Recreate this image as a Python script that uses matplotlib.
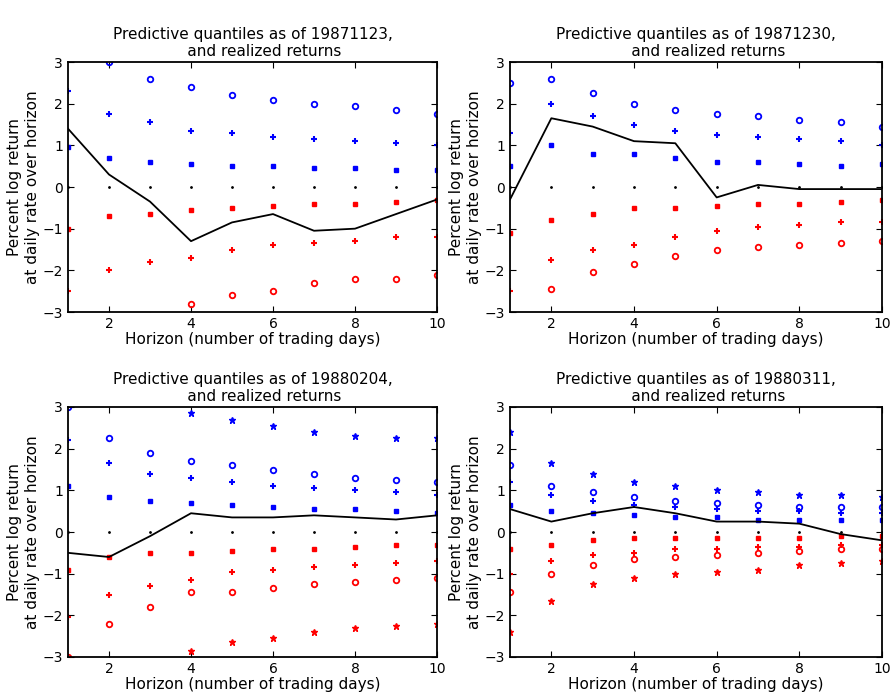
import numpy as np
import matplotlib
matplotlib.use("Agg")
import matplotlib.pyplot as plt

horizon = list(range(1, 11))
titles = ["Predictive quantiles as of 19871123,\n     and realized returns",
          "Predictive quantiles as of 19871230,\n     and realized returns",
          "Predictive quantiles as of 19880204,\n     and realized returns",
          "Predictive quantiles as of 19880311,\n     and realized returns"]

# panel 1
p1_hi4 = [3.6, 3.5, 3.5, 3.5, 3.5, 3.5, 3.5, 3.5, 3.5, 3.5]
p1_hi3 = [3.2, 3.0, 2.6, 2.4, 2.2, 2.1, 2.0, 1.95, 1.85, 1.75]
p1_hi2 = [2.3, 1.75, 1.55, 1.35, 1.3, 1.2, 1.15, 1.1, 1.05, 1.0]
p1_hi1 = [0.95, 0.7, 0.6, 0.55, 0.5, 0.5, 0.45, 0.45, 0.4, 0.4]
p1_lo1 = [-1.0, -0.7, -0.65, -0.55, -0.5, -0.45, -0.4, -0.4, -0.35, -0.3]
p1_lo2 = [-2.5, -2.0, -1.8, -1.7, -1.5, -1.4, -1.35, -1.3, -1.2, -1.2]
p1_lo3 = [-3.3, -3.2, -3.1, -2.8, -2.6, -2.5, -2.3, -2.2, -2.2, -2.1]
p1_lo4 = [-3.6, -3.5, -3.5, -3.5, -3.5, -3.5, -3.5, -3.5, -3.5, -3.5]
p1_real = [1.4, 0.3, -0.35, -1.3, -0.85, -0.65, -1.05, -1.0, -0.65, -0.3]

# panel 2
p2_hi4 = [3.5, 3.5, 3.5, 3.5, 3.5, 3.5, 3.5, 3.5, 3.5, 3.5]
p2_hi3 = [2.5, 2.6, 2.25, 2.0, 1.85, 1.75, 1.7, 1.6, 1.55, 1.45]
p2_hi2 = [1.3, 2.0, 1.7, 1.5, 1.35, 1.25, 1.2, 1.15, 1.1, 1.0]
p2_hi1 = [0.5, 1.0, 0.8, 0.8, 0.7, 0.6, 0.6, 0.55, 0.5, 0.55]
p2_lo1 = [-1.1, -0.8, -0.65, -0.5, -0.5, -0.45, -0.4, -0.4, -0.35, -0.3]
p2_lo2 = [-2.5, -1.75, -1.5, -1.4, -1.2, -1.05, -0.95, -0.9, -0.85, -0.85]
p2_lo3 = [-3.5, -2.45, -2.05, -1.85, -1.65, -1.5, -1.45, -1.4, -1.35, -1.3]
p2_lo4 = [-3.6, -3.5, -3.5, -3.5, -3.5, -3.5, -3.5, -3.5, -3.5, -3.5]
p2_real = [-0.3, 1.65, 1.45, 1.1, 1.05, -0.25, 0.05, -0.05, -0.05, -0.05]

# panel 3
p3_hi4 = [3.5, 3.5, 3.5, 2.85, 2.7, 2.55, 2.4, 2.3, 2.25, 2.25]
p3_hi3 = [3.0, 2.25, 1.9, 1.7, 1.6, 1.5, 1.4, 1.3, 1.25, 1.2]
p3_hi2 = [2.2, 1.65, 1.4, 1.3, 1.2, 1.1, 1.05, 1.0, 0.95, 0.9]
p3_hi1 = [1.1, 0.85, 0.75, 0.7, 0.65, 0.6, 0.55, 0.55, 0.5, 0.45]
p3_lo1 = [-0.9, -0.6, -0.5, -0.5, -0.45, -0.4, -0.4, -0.35, -0.3, -0.3]
p3_lo2 = [-2.05, -1.5, -1.3, -1.15, -0.95, -0.9, -0.85, -0.8, -0.75, -0.7]
p3_lo3 = [-3.0, -2.2, -1.8, -1.45, -1.45, -1.35, -1.25, -1.2, -1.15, -1.1]
p3_lo4 = [-3.5, -3.5, -3.5, -2.85, -2.65, -2.55, -2.4, -2.3, -2.25, -2.2]
p3_real = [-0.5, -0.6, -0.1, 0.45, 0.35, 0.35, 0.4, 0.35, 0.3, 0.4]

# panel 4
p4_hi4 = [2.4, 1.65, 1.4, 1.2, 1.1, 1.0, 0.95, 0.9, 0.9, 0.85]
p4_hi3 = [1.6, 1.1, 0.95, 0.85, 0.75, 0.7, 0.65, 0.6, 0.6, 0.6]
p4_hi2 = [1.2, 0.9, 0.75, 0.65, 0.6, 0.55, 0.5, 0.5, 0.45, 0.45]
p4_hi1 = [0.65, 0.5, 0.45, 0.4, 0.35, 0.35, 0.3, 0.3, 0.3, 0.3]
p4_lo1 = [-0.4, -0.3, -0.2, -0.15, -0.15, -0.15, -0.15, -0.15, -0.1, -0.1]
p4_lo2 = [-1.0, -0.7, -0.55, -0.5, -0.4, -0.4, -0.35, -0.35, -0.3, -0.3]
p4_lo3 = [-1.45, -1.0, -0.8, -0.65, -0.6, -0.55, -0.5, -0.45, -0.4, -0.4]
p4_lo4 = [-2.4, -1.65, -1.25, -1.1, -1.0, -0.95, -0.9, -0.8, -0.75, -0.7]
p4_real = [0.55, 0.25, 0.45, 0.6, 0.45, 0.25, 0.25, 0.2, -0.05, -0.2]

panels = [
    (p1_hi4, p1_hi3, p1_hi2, p1_hi1, p1_lo1, p1_lo2, p1_lo3, p1_lo4, p1_real),
    (p2_hi4, p2_hi3, p2_hi2, p2_hi1, p2_lo1, p2_lo2, p2_lo3, p2_lo4, p2_real),
    (p3_hi4, p3_hi3, p3_hi2, p3_hi1, p3_lo1, p3_lo2, p3_lo3, p3_lo4, p3_real),
    (p4_hi4, p4_hi3, p4_hi2, p4_hi1, p4_lo1, p4_lo2, p4_lo3, p4_lo4, p4_real),
]

W, H = 890, 699
fig = plt.figure(figsize=(8.9, 6.99), dpi=100)
boxes = [(68, 62, 437, 312), (510, 62, 882, 312), (68, 407, 437, 657), (510, 407, 882, 657)]
blue, red = "#0000ff", "#ff0000"
for (x0, y0, x1, y1), data, title in zip(boxes, panels, titles):
    ax = fig.add_axes([x0 / W, 1 - y1 / H, (x1 - x0) / W, (y1 - y0) / H])
    hi4, hi3, hi2, hi1, lo1, lo2, lo3, lo4, real = data
    kw = dict(linestyle="none", clip_on=True)
    ax.plot(horizon, hi4, marker="*", ms=4.5, color=blue, **kw)
    ax.plot(horizon, hi3, marker="o", ms=4, mfc="none", mew=1.3, color=blue, **kw)
    ax.plot(horizon, hi2, marker="+", ms=5, mew=1.5, color=blue, **kw)
    ax.plot(horizon, hi1, marker="s", ms=2.2, color=blue, **kw)
    ax.plot(horizon, [0] * len(horizon), marker=".", ms=2, color="black", **kw)
    ax.plot(horizon, lo1, marker="s", ms=2.2, color=red, **kw)
    ax.plot(horizon, lo2, marker="+", ms=5, mew=1.5, color=red, **kw)
    ax.plot(horizon, lo3, marker="o", ms=4, mfc="none", mew=1.3, color=red, **kw)
    ax.plot(horizon, lo4, marker="*", ms=4.5, color=red, **kw)
    ax.plot(horizon, real, color="black", lw=1.3)
    ax.set_xlim(1, 10)
    ax.set_ylim(-3, 3)
    ax.set_xticks([2, 4, 6, 8, 10])
    ax.set_yticks([-3, -2, -1, 0, 1, 2, 3])
    ax.tick_params(direction="in", labelsize=10, length=4, top=True, right=True,
                   labeltop=False, labelright=False)
    for s in ax.spines.values():
        s.set_linewidth(1.3)
    ax.set_title(title, fontsize=11, loc="center", pad=4)
    ax.set_xlabel("Horizon (number of trading days)", fontsize=11, labelpad=1)
    ax.set_ylabel("Percent log return\nat daily rate over horizon", fontsize=11, labelpad=2)

fig.savefig("out.png", dpi=100)
